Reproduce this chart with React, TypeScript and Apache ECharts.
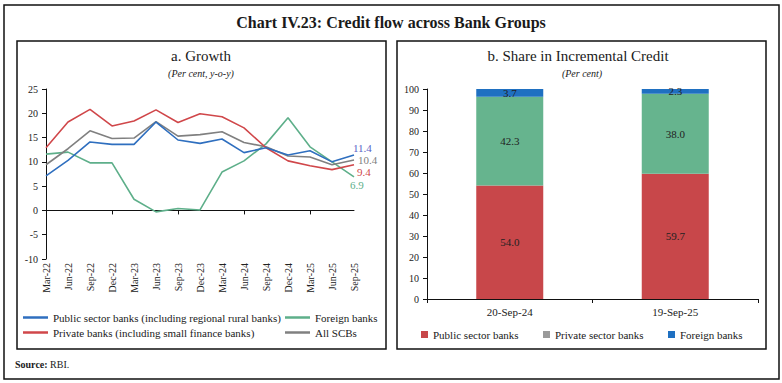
import React, { useEffect, useRef } from "react";
import * as echarts from "echarts";

const quarters = ["Mar-22","Jun-22","Sep-22","Dec-22","Mar-23","Jun-23","Sep-23","Dec-23","Mar-24","Jun-24","Sep-24","Dec-24","Mar-25","Jun-25","Sep-25"];
const publicSector = [7.1, 10.3, 14.1, 13.6, 13.6, 18.2, 14.5, 13.8, 14.7, 11.9, 12.9, 11.4, 12.3, 10.0, 11.4];
const privateBanks = [12.9, 18.2, 20.8, 17.4, 18.4, 20.7, 18.1, 19.9, 19.3, 17.0, 12.9, 10.2, 9.2, 8.4, 9.4];
const foreignBanks = [11.6, 12.0, 9.8, 9.8, 2.3, -0.3, 0.4, 0.1, 7.9, 10.2, 13.7, 19.1, 13.1, 10.0, 6.9];
const allSCBs = [9.4, 12.7, 16.4, 14.8, 14.9, 18.3, 15.3, 15.6, 16.2, 14.0, 13.1, 11.2, 11.0, 9.4, 10.4];
const growthTicks = { min: -10, max: 25, interval: 5 };

const shareDates = ["20-Sep-24", "19-Sep-25"];
const sharePublic = [54.0, 59.7];
const sharePrivate = [42.3, 38.0];
const shareForeign = [3.7, 2.3];

const FONT = "Liberation Serif";
const TXT = "#1a1a1a";

export default function App() {
  const ref = useRef<HTMLDivElement>(null);
  useEffect(() => {
    if (!ref.current) return;
    const chart = echarts.init(ref.current, undefined, { renderer: "svg" });
    const blue = "#2f6fbf";
    const red = "#d0474a";
    const green = "#5eaf8a";
    const gray = "#808080";
    const barRed = "#c8474a";
    const barGreen = "#66b48e";
    const barBlue = "#1f70c1";

    const lineLegend = (name: string, left: number, top: number) => ({
      data: [name],
      left,
      top,
      icon: "rect",
      itemWidth: 25,
      itemHeight: 2.5,
      selectedMode: false,
      padding: 0,
      textStyle: { fontFamily: FONT, fontSize: 11, color: TXT },
    });
    const boxLegend = (item: any, left: number, top: number) => ({
      data: [item],
      left,
      top,
      icon: "rect",
      itemWidth: 7,
      itemHeight: 7,
      selectedMode: false,
      padding: 0,
      textStyle: { fontFamily: FONT, fontSize: 11, color: TXT },
    });

    const lineSeries = (name: string, data: number[], color: string, labelColor: string, offset: [number, number]) => ({
      name,
      type: "line",
      xAxisIndex: 0,
      yAxisIndex: 0,
      data,
      symbol: "none",
      lineStyle: { color, width: 1.6 },
      itemStyle: { color },
      labelLayout: { hideOverlap: false },
      endLabel: {
        show: true,
        distance: 0,
        offset,
        color: labelColor,
        fontFamily: FONT,
        fontSize: 11,
        lineHeight: 11,
        formatter: (p: any) => Number(p.value).toFixed(1),
      },
    });

    const labelStyle = { fontFamily: FONT, fontSize: 11, color: "#222" };

    chart.setOption({
      animation: false,
      backgroundColor: "#ffffff",
      textStyle: { fontFamily: FONT },
      graphic: [
        { type: "rect", shape: { x: 4, y: 5, width: 775, height: 374 }, style: { fill: "none", stroke: "#111", lineWidth: 1.5 } },
        { type: "rect", shape: { x: 17, y: 41, width: 369, height: 308 }, style: { fill: "none", stroke: "#111", lineWidth: 1.5 } },
        { type: "rect", shape: { x: 397, y: 41, width: 369, height: 308 }, style: { fill: "none", stroke: "#111", lineWidth: 1.5 } },
        { type: "text", x: 391, y: 22, style: { text: "Chart IV.23: Credit flow across Bank Groups", fontFamily: FONT, fontSize: 16, fontWeight: "bold", fill: TXT, align: "center", verticalAlign: "middle" } },
        { type: "text", x: 201, y: 56, style: { text: "a. Growth", fontFamily: FONT, fontSize: 15, fill: TXT, align: "center", verticalAlign: "middle" } },
        { type: "text", x: 201, y: 73, style: { text: "(Per cent, y-o-y)", fontFamily: FONT, fontSize: 10, fontStyle: "italic", fill: TXT, align: "center", verticalAlign: "middle" } },
        { type: "text", x: 578, y: 56, style: { text: "b. Share in Incremental Credit", fontFamily: FONT, fontSize: 15, fill: TXT, align: "center", verticalAlign: "middle" } },
        { type: "text", x: 582, y: 73, style: { text: "(Per cent)", fontFamily: FONT, fontSize: 10, fontStyle: "italic", fill: TXT, align: "center", verticalAlign: "middle" } },
        {
          type: "text",
          x: 15,
          y: 364,
          style: {
            text: "{b|Source:} RBI.",
            rich: { b: { fontWeight: "bold", fontFamily: FONT, fontSize: 10, fill: TXT } },
            fontFamily: FONT,
            fontSize: 10,
            fill: TXT,
            verticalAlign: "middle",
          },
        },
      ],
      legend: [
        lineLegend("Public sector banks (including regional rural banks)", 23, 312),
        lineLegend("Foreign banks", 285, 312),
        lineLegend("Private banks (including small finance banks)", 23, 327),
        lineLegend("All SCBs", 285, 327),
        boxLegend("Public sector banks", 421, 329),
        boxLegend({ name: "Private sector banks", itemStyle: { color: "#9a9a9a" } }, 543, 329),
        boxLegend({ name: "Foreign banks", itemStyle: { color: barBlue } }, 668, 329),
      ],
      grid: [
        { left: 46, top: 89, width: 308, height: 170 },
        { left: 427, top: 89, width: 331, height: 210 },
      ],
      xAxis: [
        {
          gridIndex: 0,
          type: "category",
          data: quarters,
          boundaryGap: false,
          axisLine: { onZero: true, lineStyle: { color: "#111", width: 1 } },
          axisTick: { show: true, length: 4, lineStyle: { color: "#111" } },
          axisLabel: { show: false },
          splitLine: { show: false },
        },
        {
          gridIndex: 0,
          type: "category",
          data: quarters,
          boundaryGap: false,
          position: "bottom",
          axisLine: { show: false, onZero: false },
          axisTick: { show: false },
          axisLabel: { ...labelStyle, fontSize: 10, rotate: 90, margin: 4, interval: 0 },
          splitLine: { show: false },
        },
        {
          gridIndex: 1,
          type: "category",
          data: shareDates,
          axisLine: { lineStyle: { color: "#111", width: 1 } },
          axisTick: { show: true, length: 4, lineStyle: { color: "#111" } },
          axisLabel: { ...labelStyle, margin: 7 },
        },
      ],
      yAxis: [
        {
          gridIndex: 0,
          type: "value",
          min: growthTicks.min,
          max: growthTicks.max,
          interval: growthTicks.interval,
          axisLine: { show: true, lineStyle: { color: "#111", width: 1 } },
          axisTick: { show: true, length: 4, lineStyle: { color: "#111" } },
          axisLabel: { ...labelStyle, fontSize: 10, margin: 8 },
          splitLine: { show: false },
        },
        {
          gridIndex: 1,
          type: "value",
          min: 0,
          max: 100,
          interval: 10,
          axisLine: { show: true, lineStyle: { color: "#111", width: 1 } },
          axisTick: { show: true, length: 4, lineStyle: { color: "#111" } },
          axisLabel: { ...labelStyle, fontSize: 10, margin: 8 },
          splitLine: { show: false },
        },
      ],
      series: [
        lineSeries("Foreign banks", foreignBanks, green, green, [-4, 8]),
        lineSeries("All SCBs", allSCBs, gray, gray, [4, 0]),
        lineSeries("Private banks (including small finance banks)", privateBanks, red, red, [3, 7]),
        lineSeries("Public sector banks (including regional rural banks)", publicSector, blue, "#5a62c6", [-1, -7]),
        {
          name: "Public sector banks",
          type: "bar",
          stack: "share",
          xAxisIndex: 2,
          yAxisIndex: 1,
          data: sharePublic,
          barWidth: 67,
          itemStyle: { color: barRed },
          label: { show: true, position: "inside", ...labelStyle, formatter: (p: any) => Number(p.value).toFixed(1) },
        },
        {
          name: "Private sector banks",
          type: "bar",
          stack: "share",
          xAxisIndex: 2,
          yAxisIndex: 1,
          data: sharePrivate,
          barWidth: 67,
          itemStyle: { color: barGreen },
          label: { show: true, position: "inside", ...labelStyle, formatter: (p: any) => Number(p.value).toFixed(1) },
        },
        {
          name: "Foreign banks",
          type: "bar",
          stack: "share",
          xAxisIndex: 2,
          yAxisIndex: 1,
          data: shareForeign,
          barWidth: 67,
          itemStyle: { color: barBlue },
          label: { show: true, position: "inside", ...labelStyle, formatter: (p: any) => Number(p.value).toFixed(1) },
        },
      ],
    });
    return () => chart.dispose();
  }, []);
  return <div ref={ref} style={{ position: "absolute", left: 0, top: 0, width: 782, height: 383 }} />;
}
